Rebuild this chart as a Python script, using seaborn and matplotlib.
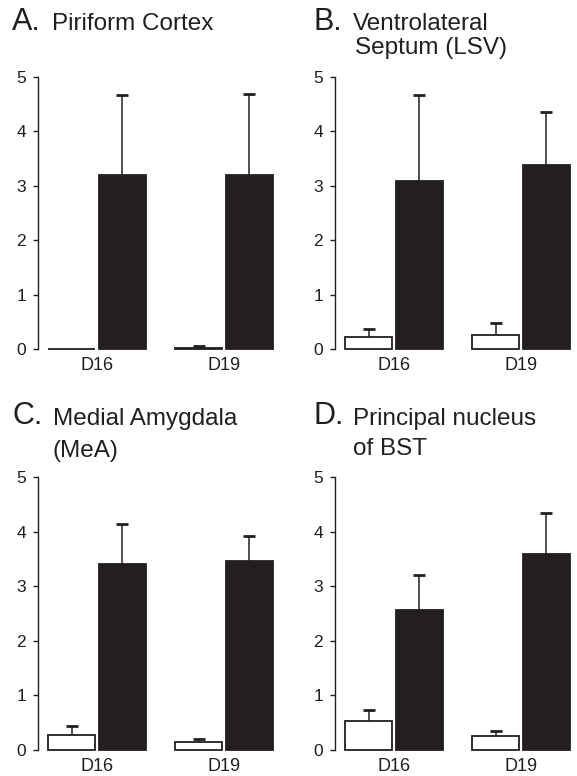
import matplotlib
matplotlib.use("Agg")
import matplotlib.pyplot as plt
import pandas as pd
import seaborn as sns

# bar heights and upper error (SEM)
days = ["D16", "D19"]
groups = ["Control", "Treated"]

piriform_ctrl = [0.0, 0.01]
piriform_ctrl_err = [0.0, 0.04]
piriform_trt = [3.19, 3.20]
piriform_trt_err = [1.48, 1.49]

lsv_ctrl = [0.215, 0.26]
lsv_ctrl_err = [0.145, 0.21]
lsv_trt = [3.09, 3.38]
lsv_trt_err = [1.58, 0.98]

mea_ctrl = [0.275, 0.15]
mea_ctrl_err = [0.165, 0.05]
mea_trt = [3.41, 3.47]
mea_trt_err = [0.74, 0.46]

bst_ctrl = [0.53, 0.26]
bst_ctrl_err = [0.20, 0.09]
bst_trt = [2.57, 3.60]
bst_trt_err = [0.64, 0.74]

yticks = [0, 1, 2, 3, 4, 5]

W, H = 577, 776
INK = "#231f20"
FONT = ["Liberation Sans", "DejaVu Sans"]

sns.set_theme(style="ticks")
plt.rcParams["font.family"] = FONT


def make_df(ctrl, trt):
    rows = []
    for d, c, t in zip(days, ctrl, trt):
        rows.append({"day": d, "group": "Control", "value": c})
        rows.append({"day": d, "group": "Treated", "value": t})
    return pd.DataFrame(rows)


def draw_panel(ax, ctrl, ctrl_err, trt, trt_err):
    df = make_df(ctrl, trt)
    sns.barplot(
        data=df, x="day", y="value", hue="group", order=days, hue_order=groups,
        palette={"Control": "white", "Treated": INK}, saturation=1,
        edgecolor=INK, linewidth=1.3, errorbar=None, gap=0.08, legend=False, ax=ax,
    )
    bars = sorted(ax.patches, key=lambda p: p.get_x())
    errs = [ctrl_err[0], trt_err[0], ctrl_err[1], trt_err[1]]
    for bar, err in zip(bars, errs):
        bar.set_clip_on(False)
        if err <= 0:
            continue
        xc = bar.get_x() + bar.get_width() / 2
        top = bar.get_height()
        _, caps, _ = ax.errorbar([xc], [top], yerr=[[0], [err]], fmt="none", ecolor=INK,
                                 elinewidth=1.1, capsize=4, capthick=2.0,
                                 clip_on=False, zorder=1)
        # only the upper cap is drawn in the original
        caps[0].set_visible(False)
    ax.set_xlim(-0.465, 1.42)
    ax.set_ylim(0, 5)
    ax.set_yticks(yticks)
    ax.set_yticklabels([str(t) for t in yticks])
    ax.set_xlabel("")
    ax.set_ylabel("")
    for s in ["top", "right", "bottom"]:
        ax.spines[s].set_visible(False)
    ax.spines["left"].set_linewidth(1.0)
    ax.spines["left"].set_color(INK)
    ax.tick_params(axis="y", length=3.6, width=1.0, color=INK, pad=5,
                   labelsize=12.5, labelcolor=INK)
    ax.tick_params(axis="x", length=0, pad=6, labelsize=13, labelcolor=INK)


def rect(left_px, top_px, bottom_px, width_px=239.4):
    return [left_px / W, (H - bottom_px) / H, width_px / W, (bottom_px - top_px) / H]


def label(x_px, y_px, s, size):
    fig.text(x_px / W, (H - y_px) / H, s, ha="left", va="baseline",
             fontsize=size, color=INK, family=FONT)


fig = plt.figure(figsize=(W / 100, H / 100), dpi=100)

ax_a = fig.add_axes(rect(38, 77, 349))
ax_b = fig.add_axes(rect(335, 77, 349))
ax_c = fig.add_axes(rect(38, 477.3, 750))
ax_d = fig.add_axes(rect(335, 477.3, 750))

draw_panel(ax_a, piriform_ctrl, piriform_ctrl_err, piriform_trt, piriform_trt_err)
draw_panel(ax_b, lsv_ctrl, lsv_ctrl_err, lsv_trt, lsv_trt_err)
draw_panel(ax_c, mea_ctrl, mea_ctrl_err, mea_trt, mea_trt_err)
draw_panel(ax_d, bst_ctrl, bst_ctrl_err, bst_trt, bst_trt_err)

TS, LS = 17.5, 22
label(12, 29.5, "A.", LS)
label(52, 29.5, "Piriform Cortex", TS)
label(314, 30, "B.", LS)
label(353, 30, "Ventrolateral", TS)
label(355, 54, "Septum (LSV)", TS)
label(12, 424.5, "C.", LS)
label(53, 424.5, "Medial Amygdala", TS)
label(53, 456.5, "(MeA)", TS)
label(314, 424.5, "D.", LS)
label(353, 424.5, "Principal nucleus", TS)
label(353, 455, "of BST", TS)

fig.savefig("out.png", dpi=100)
